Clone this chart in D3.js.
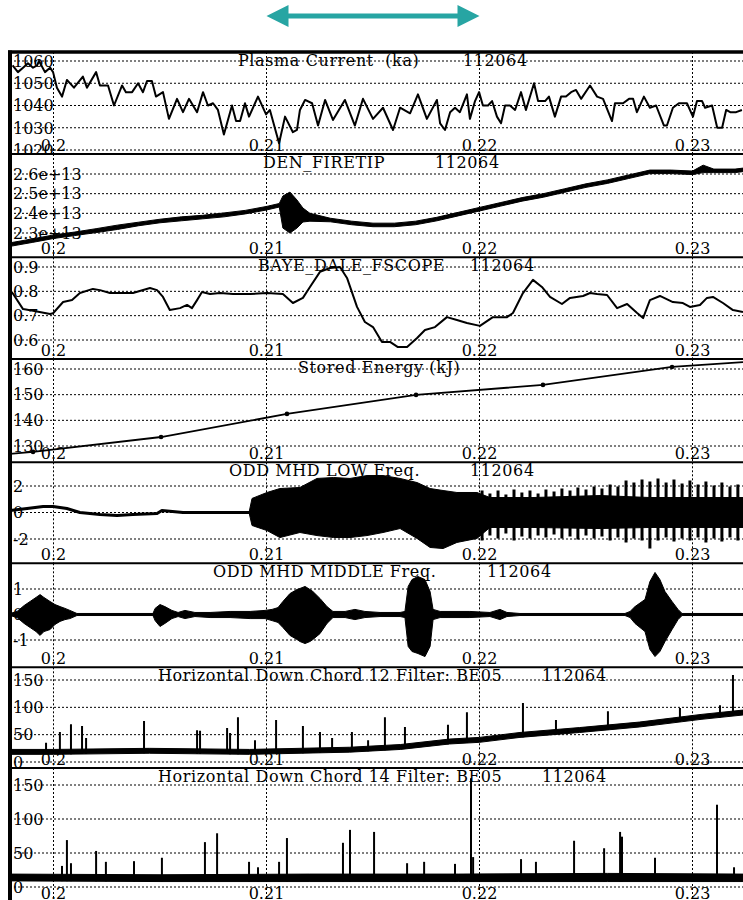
<!DOCTYPE html>
<html>
<head>
<meta charset="UTF-8">
<title>Shot 112064 traces</title>
<style>
  body { margin: 0; background: #fff; }
  svg text { font-family: "DejaVu Serif", "Liberation Serif", serif; font-size: 16px; fill: #000; white-space: pre; }
  .title { letter-spacing: 0.6px; }
</style>
<script src="https://d3js.org/d3.v7.min.js"></script>
</head>
<body>
<script>
// ---------- data (time in ms) ----------
var shot = "112064";
var timeTicks = [200, 210, 220, 230];
var timeTickLabels = ["0.2", "0.21", "0.22", "0.23"];
var arrowSpan = [210, 220];

// Plasma Current (ka)
var currentTicks = [1020, 1030, 1040, 1050, 1060];
var currentTickLabels = ["1020", "1030", "1040", "1050", "1060"];
var currentT = [198.08,198.33,198.57,198.80,199.04,199.23,199.32,199.60,199.84,199.98,200.16,200.40,200.63,200.96,201.38,201.57,202.00,202.18,202.56,202.84,203.22,203.40,203.69,203.97,204.20,204.39,204.62,204.81,205.14,205.42,205.80,206.08,206.36,206.74,207.02,207.25,207.49,207.72,208.00,208.38,208.57,208.76,208.99,209.18,209.60,209.98,210.16,210.59,210.87,211.24,211.43,211.57,211.81,212.14,212.42,212.75,213.12,213.68,214.15,214.53,215.00,215.47,215.94,216.27,216.74,217.11,217.53,218.00,218.15,218.38,218.62,218.85,219.08,219.41,219.55,219.79,219.98,220.16,220.40,220.59,220.82,221.01,221.20,221.43,221.67,221.95,222.18,222.56,222.75,223.08,223.26,223.54,223.83,224.06,224.30,224.53,224.77,225.19,225.52,225.80,226.22,226.36,226.74,227.02,227.21,227.39,227.72,228.00,228.29,228.66,228.80,229.08,229.36,229.74,230.02,230.21,230.45,230.59,230.92,231.16,231.39,231.58,231.77,232.05,232.32];
var currentV = [1058,1055,1057,1059,1057,1058,1060,1055,1057,1055,1048,1044,1051.5,1048,1053,1048,1055,1049,1049,1040,1049,1046,1046,1050,1046,1051,1051,1044,1046,1034,1043,1037,1043,1037,1046,1040,1041,1038,1027,1040,1033,1033,1041,1035,1044,1036,1038,1023,1035,1028,1029,1038,1042.5,1041,1031,1042.5,1033.5,1042.5,1031,1043,1034,1039,1029,1039,1036.5,1045,1034,1042.5,1032,1029,1037,1039,1037,1045,1034,1042,1046,1040,1040,1042,1035,1032,1040,1040,1038,1046,1038,1050,1042,1042,1044,1035,1044,1044,1046,1047,1043,1049,1044,1043,1033,1041,1041,1043,1043,1037,1044,1039,1040,1031,1031,1039,1041,1041,1035,1042,1042,1039,1040,1030,1030,1038,1037,1037,1038];

// DEN_FIRETIP (units of 1e13), min / max per time
var denTicks = [2.3, 2.4, 2.5, 2.6];
var denTickLabels = ["2.3e+13", "2.4e+13", "2.5e+13", "2.6e+13"];
var denT  = [197.96,199,200,201,202,203,204,205,206,207,208,209,210,210.6,210.77,211.1,211.43,211.71,212.04,213,214,215,216,217,218,219,220,221,222,223,224,225,226,227,228,229,230,230.5,231,232,232.37];
var denLo = [2.232,2.252,2.272,2.287,2.302,2.318,2.337,2.352,2.362,2.372,2.382,2.397,2.417,2.432,2.325,2.30,2.325,2.356,2.36,2.357,2.342,2.332,2.332,2.342,2.362,2.387,2.412,2.437,2.462,2.482,2.507,2.532,2.552,2.577,2.602,2.602,2.597,2.607,2.607,2.607,2.612];
var denHi = [2.250,2.270,2.290,2.305,2.322,2.340,2.355,2.370,2.382,2.390,2.402,2.415,2.435,2.450,2.488,2.508,2.468,2.427,2.40,2.375,2.360,2.350,2.350,2.360,2.380,2.405,2.430,2.455,2.480,2.500,2.525,2.550,2.570,2.595,2.620,2.620,2.615,2.645,2.625,2.625,2.630];

// BAYE_DALE_FSCOPE
var bayeTicks = [0.6, 0.7, 0.8, 0.9];
var bayeTickLabels = ["0.6", "0.7", "0.8", "0.9"];
var bayeT = [197.96,198.10,198.57,199.04,199.84,199.98,200.45,200.87,201.24,201.85,202.18,202.65,203.73,204.53,204.86,205.14,205.46,205.94,206.27,206.50,206.74,206.97,207.35,207.82,208.43,209.23,210.02,210.77,211.24,211.71,212.04,212.51,212.98,213.45,213.78,214.25,214.62,215.00,215.42,215.80,216.17,216.60,217.07,217.44,217.91,218.47,218.94,219.41,220.02,220.63,221.29,221.57,222.04,222.51,222.93,223.31,223.87,224.25,224.86,225.19,225.52,225.99,226.46,226.93,227.40,227.68,228.00,228.47,229.08,229.55,229.88,230.35,230.68,230.96,231.43,231.90,232.37];
var bayeV = [0.805,0.79,0.727,0.72,0.707,0.71,0.756,0.764,0.793,0.81,0.805,0.793,0.793,0.814,0.805,0.777,0.723,0.731,0.744,0.731,0.764,0.797,0.789,0.793,0.789,0.789,0.793,0.789,0.752,0.773,0.818,0.88,0.896,0.9,0.855,0.736,0.674,0.653,0.592,0.592,0.571,0.571,0.608,0.641,0.653,0.694,0.682,0.67,0.658,0.694,0.694,0.711,0.793,0.847,0.818,0.777,0.748,0.773,0.781,0.793,0.789,0.785,0.731,0.748,0.711,0.69,0.764,0.781,0.756,0.752,0.736,0.744,0.773,0.777,0.752,0.723,0.715];

// Stored Energy (kJ)
var energyTicks = [130, 140, 150, 160];
var energyTickLabels = ["130", "140", "150", "160"];
var energyT = [197.96, 199.04, 205.05, 210.96, 217.02, 222.98, 229.04, 232.37];
var energyV = [126.9, 127.7, 133.5, 142.5, 149.9, 153.8, 160.8, 162.7];

// ODD MHD LOW Freq.
var lowTicks = [-2, 0, 2];
var lowTickLabels = ["-2", "0", "2"];
var lowQuietT = [197.96,198.76,199.51,199.98,200.63,201.24,202.18,202.98,203.73,204.86,205.09,206.08,206.88,208.43,209.23];
var lowQuietV = [0.15,0.30,0.45,0.45,0.30,0,-0.15,-0.23,-0.15,-0.08,0.15,0,0,0,0];
var lowT  = [209.18,209.32,210.02,210.63,211.57,212.37,213.15,213.92,214.72,215.47,216.27,217.07,217.68,218.29,218.94,219.88,220.49,222.51,225.66,228.00,232.37];
var lowHi = [0,1.06,1.51,1.81,1.89,2.57,2.64,2.57,2.79,2.79,2.57,2.26,1.81,1.66,1.51,1.51,1.13,1.13,1.28,1.13,1.13];
var lowLo = [0,-0.98,-1.36,-1.89,-1.51,-1.74,-1.89,-1.89,-1.74,-1.51,-1.21,-1.96,-2.64,-2.72,-2.26,-1.96,-1.13,-1.13,-1.21,-1.13,-1.13];
var lowSpikeT  = [220.12,220.49,220.87,221.24,221.62,221.99,222.37,222.75,223.12,223.50,223.87,224.25,224.62,225.00,225.38,225.75,226.13,226.50,226.88,227.25,227.63,228.00,228.38,228.76,229.13,229.51,229.88,230.26,230.63,231.01,231.38,231.76,232.13];
var lowSpikeHi = [1.66,1.43,1.66,1.36,1.74,1.51,1.66,1.43,1.74,1.58,1.81,1.66,1.89,1.74,1.96,1.81,2.11,1.96,2.42,2.26,2.49,2.34,2.57,2.26,2.49,2.19,2.42,2.11,2.34,2.04,2.26,1.96,2.11];
var lowSpikeLo = [-2.11,-1.74,-1.96,-1.58,-2.11,-1.81,-1.96,-1.74,-1.89,-1.66,-1.96,-1.81,-2.04,-1.74,-1.96,-1.81,-2.11,-1.89,-2.26,-1.96,-2.11,-2.72,-2.11,-1.89,-2.19,-1.96,-2.11,-1.89,-2.26,-1.96,-2.19,-1.89,-2.11];

// ODD MHD MIDDLE Freq.
var midTicks = [-1, 0, 1];
var midTickLabels = ["-1", "0", "1"];
var midT  = [197.96,198.29,198.62,198.90,199.18,199.37,199.55,199.84,200.07,200.31,200.54,200.77,201.10,204.67,204.77,205.00,205.23,205.56,205.85,206.17,206.64,207.35,208.29,209.23,209.93,210.26,210.54,210.77,211.10,211.43,211.57,211.81,212.04,212.18,212.51,212.84,213.12,213.69,214.15,214.62,215.33,216.27,216.50,216.65,216.83,217.11,217.44,217.68,217.82,218.15,219.55,220.49,220.96,221.29,221.90,226.83,227.07,227.30,227.77,228.00,228.24,228.47,228.71,229.04,229.32,229.51,232.37];
var midHi = [0.04,0.12,0.35,0.51,0.67,0.78,0.67,0.51,0.39,0.31,0.24,0.16,0.04,0.04,0.24,0.39,0.31,0.16,0.08,0.16,0.08,0.08,0.12,0.12,0.16,0.20,0.27,0.51,0.82,0.98,1.02,1.10,0.98,0.90,0.63,0.31,0.12,0.12,0.20,0.12,0.08,0.08,0.12,1.10,1.37,1.49,1.37,0.90,0.20,0.12,0.12,0.08,0.20,0.08,0.04,0.04,0.12,0.31,0.59,1.29,1.65,1.37,0.90,0.51,0.20,0.04,0.04];
var midLo = [-0.04,-0.12,-0.35,-0.51,-0.67,-0.82,-0.67,-0.59,-0.39,-0.27,-0.20,-0.16,-0.04,-0.04,-0.24,-0.47,-0.35,-0.16,-0.08,-0.16,-0.08,-0.12,-0.12,-0.16,-0.16,-0.24,-0.31,-0.51,-0.82,-0.98,-1.06,-1.14,-1.06,-0.98,-0.75,-0.35,-0.12,-0.12,-0.20,-0.12,-0.08,-0.08,-0.12,-1.25,-1.45,-1.53,-1.65,-1.25,-0.20,-0.12,-0.12,-0.08,-0.20,-0.08,-0.04,-0.04,-0.12,-0.35,-0.67,-1.37,-1.65,-1.45,-1.06,-0.59,-0.20,-0.04,-0.04];

// Horizontal Down Chord 12 Filter: BE05
var chordTicks = [0, 50, 100, 150];
var chordTickLabels = ["0", "50", "100", "150"];
var c12T  = [197.96,200,204.5,209.2,213.9,216.3,218.6,220,221.9,224.7,227.5,230.4,232.37];
var c12Lo = [14,14,16,14,18,23,33,36,45,54,64,78,86];
var c12Hi = [23,23,25,23,27,32,42,45,54,63,73,87,95];
var c12SpikeT = [199.65,200.30,200.82,201.34,201.53,204.25,206.74,206.88,208.15,208.29,208.66,209.46,210.45,211.71,212.51,213.08,214.01,214.77,215.56,216.50,218.52,219.41,222.04,223.59,226.03,229.41,231.29,231.90];
var c12SpikeV = [35,55,69,66,44,75,58,57,62,53,82,40,77,66,55,44,55,40,82,64,68,91,108,77,93,99,104,159];

// Horizontal Down Chord 14 Filter: BE05
var c14T  = [197.96,205,212,219,226,232.37];
var c14Lo = [9,8,8,8,8,8];
var c14Hi = [19,18,19,19,20,19];
var c14SpikeT = [200.40,200.63,200.82,202.00,202.46,203.78,205.09,207.11,207.68,209.18,209.60,210.59,210.96,213.59,213.92,215.05,216.60,217.40,218.85,219.60,219.70,221.95,222.65,224.44,225.85,226.60,226.69,228.24,231.15,231.95];
var c14SpikeV = [31,69,35,53,37,38,43,66,79,37,29,37,72,65,84,81,35,37,34,160,44,41,37,68,57,81,74,43,121,29];

// ---------- layout ----------
var W = 743, H = 900;
var frameLeft = 10, frameRight = 743, frameTop = 52;
// panel top/bottom and pixel rows of first/last y tick
var layout = [
  {top: 52,    bottom: 154,   yPix: [150, 61],  titleX: 238, shotX: 463},
  {top: 154,   bottom: 257.3, yPix: [233, 174], titleX: 263, shotX: 435},
  {top: 257.3, bottom: 359,   yPix: [340, 267], titleX: 258, shotX: 470},
  {top: 359,   bottom: 462.3, yPix: [446, 369], titleX: 298, shotX: null},
  {top: 462.3, bottom: 563.3, yPix: [539, 486], titleX: 229, shotX: 470},
  {top: 563.3, bottom: 667.3, yPix: [640, 589], titleX: 213, shotX: 487},
  {top: 667.3, bottom: 768,   yPix: [762, 680], titleX: 158, shotX: 542},
  {top: 768,   bottom: 902,   yPix: [887, 785], titleX: 158, shotX: 542}
];

var x = d3.scaleLinear().domain([200, 230]).range([53.5, 692.5]);

var svg = d3.select("body").append("svg")
    .attr("width", W)
    .attr("height", H);

// helpers
function trace(g, y, T, V, w) {
  g.append("path")
    .datum(d3.zip(T, V))
    .attr("fill", "none")
    .attr("stroke", "#000")
    .attr("stroke-width", w)
    .attr("stroke-linejoin", "round")
    .attr("d", d3.line().x(function(d) { return x(d[0]); }).y(function(d) { return y(d[1]); }));
}

function band(g, y, T, Lo, Hi) {
  g.append("path")
    .datum(d3.zip(T, Lo, Hi))
    .attr("fill", "#000")
    .attr("stroke", "#000")
    .attr("stroke-width", 1)
    .attr("d", d3.area()
      .x(function(d) { return x(d[0]); })
      .y0(function(d) { return y(d[1]); })
      .y1(function(d) { return y(d[2]); }));
}

function spikes(g, y, T, Top, baseFn, w) {
  g.selectAll(null).data(d3.range(T.length)).enter().append("line")
    .attr("x1", function(i) { return x(T[i]); })
    .attr("x2", function(i) { return x(T[i]); })
    .attr("y1", function(i) { return y(baseFn(i)); })
    .attr("y2", function(i) { return y(Top[i]); })
    .attr("stroke", "#000")
    .attr("stroke-width", w);
}

var c12Base = d3.scaleLinear().domain(c12T).range(c12Lo);
var c14Base = d3.scaleLinear().domain(c14T).range(c14Lo);

var panels = [
  {title: "Plasma Current  (ka)", ticks: currentTicks, labels: currentTickLabels,
   draw: function(g, y) { trace(g, y, currentT, currentV, 2); }},
  {title: "DEN_FIRETIP", ticks: denTicks, labels: denTickLabels,
   draw: function(g, y) { band(g, y, denT, denLo, denHi); }},
  {title: "BAYE_DALE_FSCOPE", ticks: bayeTicks, labels: bayeTickLabels,
   draw: function(g, y) { trace(g, y, bayeT, bayeV, 2); }},
  {title: "Stored Energy (kJ)", ticks: energyTicks, labels: energyTickLabels,
   draw: function(g, y) {
     trace(g, y, energyT, energyV, 1.8);
     g.selectAll(null).data(d3.range(1, energyT.length - 1)).enter().append("circle")
       .attr("cx", function(i) { return x(energyT[i]); })
       .attr("cy", function(i) { return y(energyV[i]); })
       .attr("r", 2.3)
       .attr("fill", "#000");
   }},
  {title: "ODD MHD LOW Freq.", ticks: lowTicks, labels: lowTickLabels,
   draw: function(g, y) {
     trace(g, y, lowQuietT, lowQuietV, 3);
     band(g, y, lowT, lowLo, lowHi);
     g.selectAll(null).data(d3.range(lowSpikeT.length)).enter().append("line")
       .attr("x1", function(i) { return x(lowSpikeT[i]); })
       .attr("x2", function(i) { return x(lowSpikeT[i]); })
       .attr("y1", function(i) { return y(lowSpikeLo[i]); })
       .attr("y2", function(i) { return y(lowSpikeHi[i]); })
       .attr("stroke", "#000")
       .attr("stroke-width", 3);
   }},
  {title: "ODD MHD MIDDLE Freq.", ticks: midTicks, labels: midTickLabels,
   draw: function(g, y) { band(g, y, midT, midLo, midHi); }},
  {title: "Horizontal Down Chord 12 Filter: BE05", ticks: chordTicks, labels: chordTickLabels,
   draw: function(g, y) {
     band(g, y, c12T, c12Lo, c12Hi);
     spikes(g, y, c12SpikeT, c12SpikeV, function(i) { return c12Base(c12SpikeT[i]); }, 2);
   }},
  {title: "Horizontal Down Chord 14 Filter: BE05", ticks: chordTicks, labels: chordTickLabels,
   draw: function(g, y) {
     band(g, y, c14T, c14Lo, c14Hi);
     spikes(g, y, c14SpikeT, c14SpikeV, function(i) { return c14Base(c14SpikeT[i]); }, 2);
   }}
];

var defs = svg.append("defs");

panels.forEach(function(p, i) {
  var L = layout[i];
  var y = d3.scaleLinear()
      .domain([p.ticks[0], p.ticks[p.ticks.length - 1]])
      .range(L.yPix);

  defs.append("clipPath").attr("id", "clip" + i)
    .append("rect")
      .attr("x", frameLeft)
      .attr("y", L.top)
      .attr("width", frameRight - frameLeft)
      .attr("height", L.bottom - L.top);

  var g = svg.append("g").attr("clip-path", "url(#clip" + i + ")");

  // dotted grid
  g.selectAll(".hgrid").data(p.ticks).enter().append("line")
    .attr("x1", frameLeft).attr("x2", frameRight)
    .attr("y1", function(d) { return y(d); })
    .attr("y2", function(d) { return y(d); })
    .attr("stroke", "#000").attr("stroke-width", 1)
    .attr("stroke-dasharray", "2,2");
  g.selectAll(".vgrid").data(timeTicks).enter().append("line")
    .attr("x1", function(d) { return x(d); })
    .attr("x2", function(d) { return x(d); })
    .attr("y1", L.top).attr("y2", L.bottom)
    .attr("stroke", "#000").attr("stroke-width", 1)
    .attr("stroke-dasharray", "2,2");

  // tick labels
  g.selectAll(".ylab").data(p.ticks).enter().append("text")
    .attr("x", 13)
    .attr("y", function(d) { return y(d); })
    .attr("dy", "0.36em")
    .text(function(d, k) { return p.labels[k]; });
  g.selectAll(".xlab").data(timeTicks).enter().append("text")
    .attr("x", function(d) { return x(d); })
    .attr("y", L.bottom - 3.5)
    .attr("text-anchor", "middle")
    .text(function(d, k) { return timeTickLabels[k]; });

  // title
  g.append("text").attr("class", "title")
    .attr("x", L.titleX).attr("y", L.top + 14)
    .text(p.title);
  if (L.shotX !== null) {
    g.append("text").attr("class", "title")
      .attr("x", L.shotX).attr("y", L.top + 14)
      .text(shot);
  }

  // signal
  p.draw(g, y);

  // separator under panel
  if (i < panels.length - 1) {
    svg.append("line")
      .attr("x1", frameLeft).attr("x2", frameRight)
      .attr("y1", L.bottom).attr("y2", L.bottom)
      .attr("stroke", "#000").attr("stroke-width", 2);
  }
});

// outer frame
svg.append("line")
  .attr("x1", 8).attr("x2", frameRight)
  .attr("y1", frameTop).attr("y2", frameTop)
  .attr("stroke", "#000").attr("stroke-width", 3.5);
svg.append("line")
  .attr("x1", frameLeft).attr("x2", frameLeft)
  .attr("y1", frameTop - 1.5).attr("y2", H)
  .attr("stroke", "#000").attr("stroke-width", 4);

// time-window arrow
var ay = 16, head = 22, half = 11, shaft = 2.6;
var a0 = x(arrowSpan[0]), a1 = x(arrowSpan[1]);
svg.append("path")
  .attr("fill", "#27a5a3")
  .attr("d", "M" + a0 + "," + ay +
    "L" + (a0 + head) + "," + (ay - half) +
    "L" + (a0 + head) + "," + (ay - shaft) +
    "L" + (a1 - head) + "," + (ay - shaft) +
    "L" + (a1 - head) + "," + (ay - half) +
    "L" + a1 + "," + ay +
    "L" + (a1 - head) + "," + (ay + half) +
    "L" + (a1 - head) + "," + (ay + shaft) +
    "L" + (a0 + head) + "," + (ay + shaft) +
    "L" + (a0 + head) + "," + (ay + half) + "Z");
</script>
</body>
</html>
